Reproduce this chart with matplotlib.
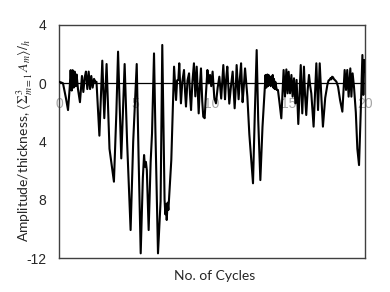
import matplotlib
matplotlib.use("Agg")
import matplotlib.pyplot as plt
import numpy as np

# amplitude/thickness vs number of cycles
cycles = [
    0.00, 0.15, 0.26, 0.45, 0.59, 0.70, 0.76, 0.83, 0.89, 0.96, 1.02, 1.09, 1.15, 1.24,
    1.37, 1.50, 1.59, 1.68, 1.76, 1.85, 1.94, 2.03, 2.11, 2.20, 2.29, 2.37, 2.45, 2.64,
    2.83, 2.96, 3.11, 3.30, 3.59, 3.75, 3.86,
    4.07, 4.29, 4.45, 4.68, 4.85, 5.08, 5.20, 5.34, 5.48, 5.56, 5.62, 5.68, 5.74, 5.86,
    5.99, 6.08, 6.21, 6.30, 6.47, 6.64, 6.75, 6.90, 6.95, 7.00, 7.04, 7.10, 7.15, 7.23,
    7.34, 7.52,
    7.65, 7.72, 7.80, 7.86, 7.97, 8.06, 8.17, 8.24, 8.30, 8.40, 8.50, 8.56, 8.63, 8.72,
    8.82, 8.91, 9.00, 9.07, 9.13, 9.20, 9.28, 9.36, 9.43, 9.52, 9.60, 9.70, 9.78, 9.87,
    9.95, 10.04, 10.15, 10.26, 10.37, 10.48, 10.60, 10.74, 10.85, 10.92, 11.00, 11.13,
    11.24, 11.35, 11.48, 11.55, 11.61, 11.74, 11.82, 11.90, 12.00, 12.08, 12.16, 12.31,
    12.44, 12.68, 12.80, 12.92, 13.02, 13.16, 13.30, 13.44, 13.50, 13.55, 13.62, 13.66,
    13.70, 13.75, 13.79, 13.84, 13.88, 13.93, 13.97, 14.01, 14.05, 14.10, 14.14, 14.23,
    14.31, 14.42, 14.53, 14.68, 14.77, 14.86, 14.94, 15.01, 15.10, 15.19, 15.27, 15.36,
    15.45, 15.53, 15.64,
    15.80, 15.90, 16.01, 16.08, 16.16, 16.25, 16.34, 16.42, 16.49, 16.64, 16.82, 16.93,
    17.04, 17.15, 17.25, 17.40, 17.54, 17.62, 17.69, 17.75, 17.80, 17.85, 17.91, 17.96,
    18.02, 18.13, 18.24, 18.37, 18.52, 18.67, 18.76, 18.84, 18.93, 19.04, 19.11, 19.19,
    19.28, 19.40, 19.50, 19.61, 19.72, 19.83, 19.89, 19.95, 20.00,
]
amplitude = [
    0.10, 0.05, 0.00, -1.00, -1.84, -0.30, 0.90, -0.50, 0.90, -0.30, 0.80, -0.20, 0.60, -0.40,
    -1.30, 0.50, -0.60, 0.40, 0.80, -0.40, 0.80, -0.40, 0.50, -0.30, 0.30, 0.10, 0.10, -3.60,
    1.55, -2.40, 1.32, -4.50, -6.76, -2.00, 2.17,
    -5.16, 1.32, -4.00, -10.08, -4.00, 1.32, -5.00, -11.68, -6.50, -4.93, -5.73, -5.40, -5.96, -10.08,
    -5.40, -3.44, 2.05, -3.20, -11.68, -8.10, 2.63, -8.00, -9.00, -8.30, -9.39, -8.20, -8.70, -7.30,
    -5.27, 1.14,
    -1.15, 0.20, 0.22, 1.37, -1.38, 0.10, 0.91, -0.60, -1.60, 0.20, 0.68, -0.70, -1.84, 0.10,
    1.37, -0.90, 1.14, -0.50, -2.07, -0.30, 1.02, -1.20, -2.30, -2.40, -0.80, 0.91, 0.00, 0.57,
    -0.20, 0.80, -1.00, -1.38, -0.30, 0.45, -1.05, 1.25, -1.10, 0.20, 1.14, -1.40,
    -0.20, 0.80, -1.72, -0.40, 1.25, -1.10, 0.30, 1.37, -1.30, -0.20, 1.02, -0.90,
    -3.50, -6.87, -2.00, 2.28, -2.50, -6.65, -3.00, -0.46, 0.57, -0.30, 0.60, -0.20,
    0.57, -0.10, 0.45, -0.20, 0.45, -0.10, 0.57, -0.30, 0.30, -0.40, 0.10, -0.46,
    -0.46, -1.40, -2.41, 0.91, -0.92, 0.95, -0.69, 0.79, -0.69, 0.57, -0.92, 0.34,
    -1.38, 0.23, -2.80,
    1.25, -2.07, 1.14, -0.80, -2.18, -0.50, 0.57, -0.20, -0.69, -2.98, 1.37, -1.84,
    1.37, -1.00, -2.98, -1.00, -0.11, 0.20, 0.23, 0.35, 0.27, 0.45, 0.41, 0.30,
    0.23, 0.11, -0.24, -1.15, -1.95, 0.91, -0.46, 0.91, -0.92, 1.02, -0.92, 0.68,
    -0.24, -2.00, -4.50, -5.62, -2.00, 1.94, -0.80, 1.60, 0.80,
]

y_ticks = [4, 0, -4, -8, -12]
y_tick_labels = ["4", "0", "4", "8", "-12"]
x_ticks = [0, 5, 10, 15, 20]

plt.rcParams["mathtext.fontset"] = "stix"

fig = plt.figure(figsize=(3.9, 2.92), dpi=100)
ax = fig.add_axes([59 / 390, 34 / 292, 306 / 390, 233 / 292])

ax.plot(cycles, amplitude, color="black", lw=1.5, solid_joinstyle="round", zorder=3)
ax.axhline(0, color="black", lw=0.9, zorder=2)

ax.set_xlim(0, 20)
ax.set_ylim(-12, 4)

ax.set_yticks(y_ticks)
ax.set_yticklabels(y_tick_labels, fontsize=10, family="Liberation Sans", color="#262626")
ax.tick_params(axis="y", length=0, pad=9)
ax.set_xticks([])

for xt in x_ticks:
    ax.annotate(str(xt), (xt, 0), xytext=(0, -10), textcoords="offset points",
                ha="center", va="top", fontsize=10, family="Liberation Sans",
                color="#a6a6a6", zorder=1)

for s in ax.spines.values():
    s.set_color("#404040")
    s.set_linewidth(1.0)

fig.text(25 / 390, 0.52,
         r"Amplitude/thickness, $\langle\Sigma_{m=1}^{3}\,A_m\rangle/_h$",
         rotation=90, ha="center", va="center", fontsize=10, family="Lato",
         color="#262626")
fig.text(215 / 390, 16 / 292, "No. of Cycles", ha="center", va="center",
         fontsize=10, family="Lato", color="#262626")

fig.savefig("out.png", dpi=100)
